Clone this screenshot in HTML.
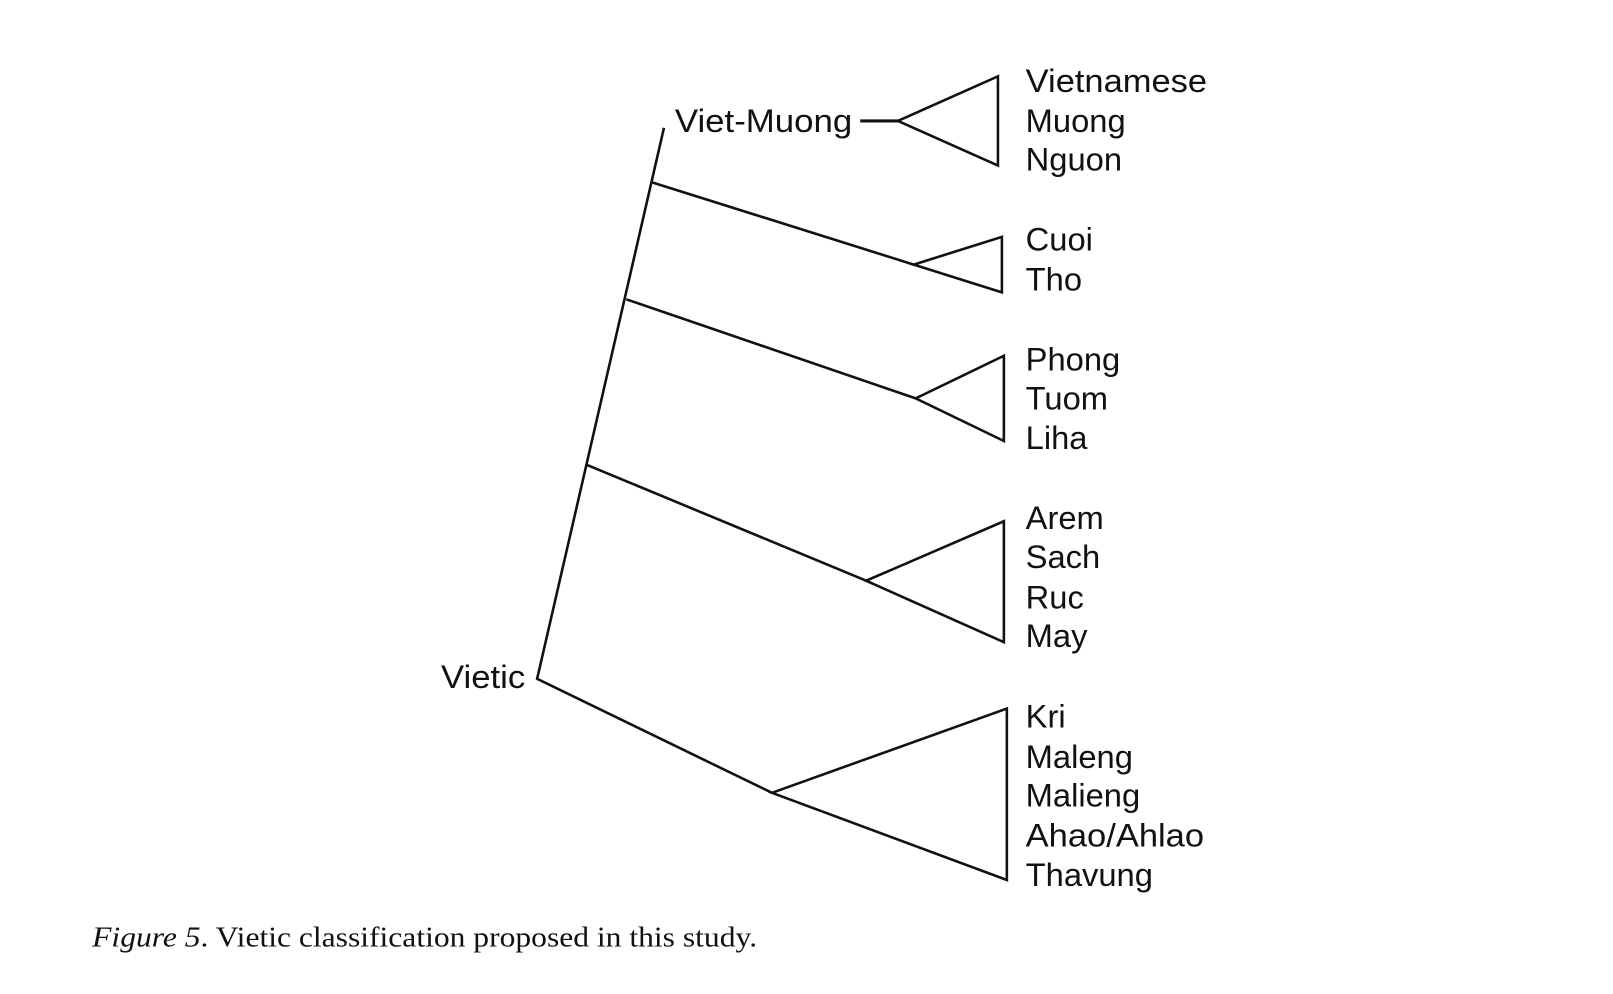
<!DOCTYPE html>
<html><head><meta charset="utf-8"><style>
html,body{margin:0;padding:0;background:#fff;}
svg{display:block;}
</style></head><body>
<svg width="1613" height="994" viewBox="0 0 1613 994" xmlns="http://www.w3.org/2000/svg">
<g transform="scale(0.991)">
<g stroke="#111" stroke-width="2.6" fill="none" stroke-linejoin="miter">
<polyline points="670,129 542,685 779,800"/>
<line x1="658" y1="184" x2="922" y2="267"/>
<line x1="632" y1="302" x2="924" y2="402"/>
<line x1="592" y1="469" x2="874" y2="586"/>
<line x1="868" y1="122" x2="906" y2="122" stroke-width="3.2"/>
<polygon points="906,122 1007,77 1007,167"/>
<polygon points="922,267 1011,239 1011,295"/>
<polygon points="924,402 1013,359 1013,445"/>
<polygon points="874,586 1013,526 1013,648"/>
<polygon points="779,800 1016,715 1016,888"/>
</g>
<g font-family="Liberation Sans, Arial, sans-serif" font-size="33" fill="#111">
<text x="681" y="133" textLength="179" lengthAdjust="spacingAndGlyphs">Viet-Muong</text>
<text x="445" y="694" textLength="85" lengthAdjust="spacingAndGlyphs">Vietic</text>
<text x="1035" y="93" textLength="183" lengthAdjust="spacingAndGlyphs">Vietnamese</text>
<text x="1035" y="133">Muong</text>
<text x="1035" y="172">Nguon</text>
<text x="1035" y="253">Cuoi</text>
<text x="1035" y="293">Tho</text>
<text x="1035" y="374">Phong</text>
<text x="1035" y="413">Tuom</text>
<text x="1035" y="453">Liha</text>
<text x="1035" y="534">Arem</text>
<text x="1035" y="573">Sach</text>
<text x="1035" y="614">Ruc</text>
<text x="1035" y="653">May</text>
<text x="1035" y="734">Kri</text>
<text x="1035" y="775">Maleng</text>
<text x="1035" y="814">Malieng</text>
<text x="1035" y="854" textLength="180" lengthAdjust="spacingAndGlyphs">Ahao/Ahlao</text>
<text x="1035" y="894">Thavung</text>
</g>
<text x="93" y="955" font-family="Liberation Serif, serif" font-size="29" fill="#111" textLength="671" lengthAdjust="spacingAndGlyphs"><tspan font-style="italic">Figure 5</tspan>. Vietic classification proposed in this study.</text>
</g>
</svg>
</body></html>
